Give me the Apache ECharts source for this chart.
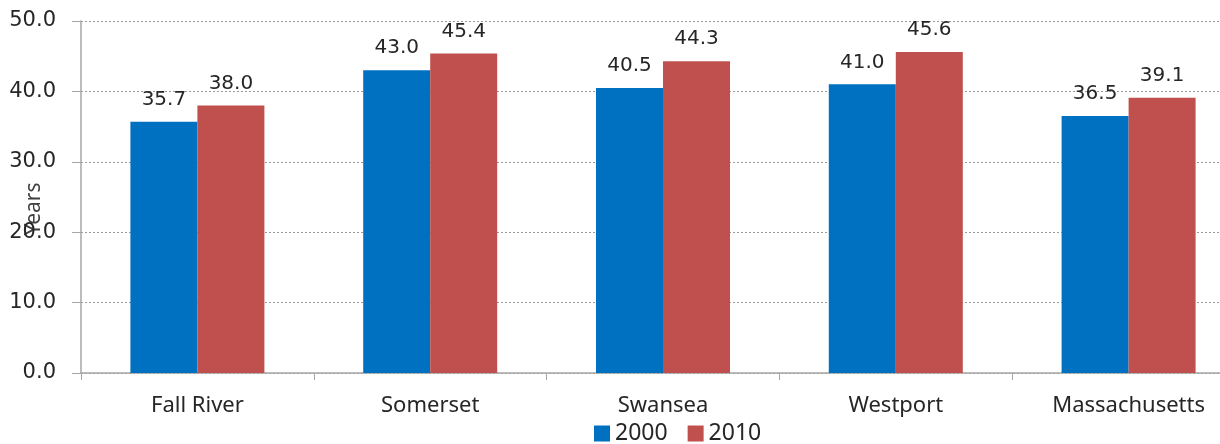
<!DOCTYPE html>
<html><head><meta charset="utf-8">
<script src="https://cdn.jsdelivr.net/npm/echarts@6/dist/echarts.min.js"></script>
<style>html,body{margin:0;padding:0;background:#fff}#c{width:1220px;height:444px}</style>
</head><body><div id="c"></div>
<script>
const categories = ['Fall River', 'Somerset', 'Swansea', 'Westport', 'Massachusetts'];
const values2000 = [35.7, 43.0, 40.5, 41.0, 36.5];
const values2010 = [38.0, 45.4, 44.3, 45.6, 39.1];
const seriesNames = ['2000', '2010'];
const yTicks = { min: 0, max: 50, interval: 10 };

const chart = echarts.init(document.getElementById('c'), null, { renderer: 'canvas' });
const labelStyle = {
  show: true, position: 'top', distance: 12,
  fontFamily: 'DejaVu Sans', fontSize: 20, color: '#262626',
  formatter: p => p.value.toFixed(1)
};
chart.setOption({
  animation: false,
  backgroundColor: '#fff',
  grid: { left: 81, right: -25, top: 21, bottom: 71, containLabel: false, outerBoundsMode: 'none' },
  legend: {
    data: seriesNames, top: 417, left: 589, icon: 'rect',
    itemWidth: 16, itemHeight: 16, itemGap: 20,
    textStyle: { fontFamily: 'Noto Sans', fontSize: 23, color: '#262626', padding: [0, 0, 0, 0] }
  },
  xAxis: {
    type: 'category', data: categories,
    axisLine: { lineStyle: { color: '#a6a6a6', width: 1.5 } },
    axisTick: { show: true, length: 7, alignWithLabel: false, lineStyle: { color: '#a6a6a6' } },
    axisLabel: { fontFamily: 'Noto Sans', fontSize: 22, color: '#262626', margin: 22 }
  },
  yAxis: {
    type: 'value', min: yTicks.min, max: yTicks.max, interval: yTicks.interval,
    name: 'Years', nameLocation: 'middle', nameGap: 36, nameRotate: 90, nameMoveOverlap: false,
    nameTextStyle: { fontFamily: 'Noto Sans', fontSize: 21, color: '#404040', padding: [0, 24, 0, 0] },
    axisLine: { show: true, lineStyle: { color: '#a6a6a6', width: 1.5 } },
    axisTick: { show: true, length: 9, lineStyle: { color: '#a6a6a6' } },
    axisLabel: { fontFamily: 'DejaVu Sans', fontSize: 21, color: '#262626', margin: 25, formatter: v => v.toFixed(1) },
    splitLine: { show: true, lineStyle: { color: '#9a9a9a', type: [2, 2], width: 1 } }
  },
  series: [
    { name: seriesNames[0], type: 'bar', data: values2000, barWidth: 67, barGap: '0%',
      itemStyle: { color: '#0070C0' }, label: labelStyle },
    { name: seriesNames[1], type: 'bar', data: values2010, barWidth: 67, barGap: '0%',
      itemStyle: { color: '#C0504D' }, label: labelStyle }
  ]
});
</script></body></html>
